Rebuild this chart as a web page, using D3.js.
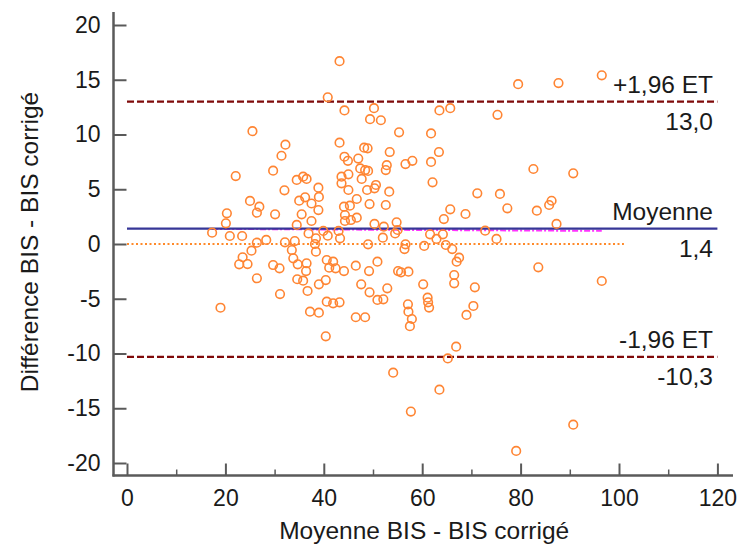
<!DOCTYPE html>
<html><head><meta charset="utf-8">
<script src="https://cdn.jsdelivr.net/npm/d3@7/dist/d3.min.js"></script>
<style>
html,body{margin:0;padding:0;background:#fff;}
svg{display:block;font-family:"Liberation Sans",Arial,sans-serif;}
</style></head>
<body>
<svg id="chart" width="742" height="551"></svg>
<script>
// Mean of the two methods (x) and their difference (y)
const meanValues = [
25.5,32.2,31.4,
43.2,40.8,79.5,44.2,50.2,49.4,51.6,63.5,65.7,75.3,55.3,61.8,43.2,48.2,48.9,44.2,44.9,47.0,53.4,63.4,58.0,56.6,61.8,52.8,
87.7,96.5,
82.6,90.7,86.3,85.8,83.3,87.3,83.6,96.5,
90.7,79.1,
40.4,66.9,65.2,54.1,63.5,57.7,57.5,
22.1,29.7,34.5,35.8,36.5,32.0,38.9,35.0,36.2,37.5,39.0,25.0,26.9,26.4,30.1,20.3,20.1,35.5,37.5,34.5,36.9,38.4,17.3,20.9,23.4,26.4,28.3,32.1,34.1,25.3,33.5,38.2,38.4,23.5,22.8,24.5,33.8,34.7,36.5,29.7,31.0,36.4,26.4,34.6,35.8,39.0,36.7,31.1,19.0,37.2,39.0,
47.4,48.4,49.0,52.6,43.6,45.0,43.6,47.7,50.6,50.3,48.8,53.3,62.1,71.2,75.8,77.3,45.0,46.7,49.3,52.6,44.1,45.3,38.9,44.3,44.3,45.5,46.7,50.3,52.2,54.8,55.0,54.5,65.7,64.4,68.8,72.8,75.1,39.9,40.8,43.0,43.3,52.0,49.0,56.6,56.4,60.4,61.6,62.9,64.2,64.8,66.1,67.5,67.0,66.5,66.5,70.7,70.4,69.0,60.2,61.1,61.2,61.4,55.1,55.7,57.2,57.1,57.2,57.9,50.9,49.2,46.5,52.9,49.3,47.6,50.9,52.1,46.5,48.4,40.6,41.9,41.1,42.4,44.1,40.4,40.6,41.9,43.2
];
const diffValues = [
10.3,9.07,8.06,
16.7,13.4,14.6,12.2,12.4,11.4,11.3,12.2,12.4,11.8,10.2,10.1,9.25,8.8,8.74,7.97,7.6,7.8,8.4,8.4,7.6,7.3,7.5,7.2,
14.7,15.4,
6.85,6.45,3.95,3.56,3.04,1.83,-2.13,-3.38,
-16.5,-18.9,
-8.43,-9.38,-10.45,-11.75,-13.3,-15.3,-7.5,
6.2,6.7,5.85,6.15,5.94,4.9,5.14,3.96,4.26,3.7,4.3,3.93,3.41,2.86,2.71,2.8,1.89,2.71,2.1,1.74,0.97,0.52,1.03,0.73,0.73,0.12,0.37,0.15,0.27,-0.61,-0.55,0.0,-0.7,-1.21,-1.86,-1.83,-1.31,-1.86,-1.76,-1.92,-2.22,-2.47,-3.13,-3.22,-3.35,-3.68,-4.29,-4.57,-5.82,-6.18,-6.27,
6.9,6.75,6.67,6.75,6.15,6.36,5.54,5.94,5.39,5.08,4.93,4.78,5.63,4.63,4.57,3.26,4.93,4.11,3.65,3.56,3.41,3.5,3.1,2.65,2.1,2.19,2.4,1.83,1.58,1.98,1.28,0.97,3.17,2.28,2.74,1.22,0.46,1.19,0.76,1.19,0.52,0.58,-0.03,-0.03,-0.46,-0.18,0.88,0.46,0.88,-0.09,-0.46,-1.25,-1.61,-2.83,-3.59,-3.96,-5.66,-6.48,-3.68,-4.9,-5.33,-5.81,-2.47,-2.59,-2.53,-5.51,-6.18,-6.85,-1.61,-2.47,-1.98,-4.05,-4.41,-3.68,-5.11,-5.05,-6.69,-6.69,-1.46,-1.61,-2.16,-2.22,-2.47,-3.29,-5.27,-5.42,-5.33
];
const xTicks = [0,20,40,60,80,100,120];
const xMinorTicks = [10,30,50,70,90,110];
const yTicks = [-20,-15,-10,-5,0,5,10,15,20];
const meanDiff = 1.4;
const upperLoA = 13.0;
const lowerLoA = -10.3;
const regressionStart = 1.38;
const regressionEnd = 1.2;
const refLabels = [
  {value: upperLoA, top: "+1,96 ET", bottom: "13,0"},
  {value: meanDiff, top: "Moyenne", bottom: "1,4"},
  {value: lowerLoA, top: "-1,96 ET", bottom: "-10,3"}
];
const xTitle = "Moyenne BIS - BIS corrigé";
const yTitle = "Différence BIS - BIS corrigé";

const svg = d3.select("#chart");
const x = d3.scaleLinear().domain([0,120]).range([127,717.4]);
const y = d3.scaleLinear().domain([-20,20]).range([463,25]);
const axisX = 113.5, axisY = 475.5;
const axisColor = "#5a5a5a";
const textColor = "#1a1a1a";

// reference lines
const g = svg.append("g");
g.append("line").attr("x1",x(0)).attr("x2",x(101)).attr("y1",y(0)).attr("y2",y(0))
  .attr("stroke","#ff8a2a").attr("stroke-width",2.2).attr("stroke-dasharray","2,2.5");
g.append("line").attr("x1",x(d3.min(meanValues))).attr("x2",x(d3.max(meanValues)))
  .attr("y1",y(regressionStart)).attr("y2",y(regressionEnd))
  .attr("stroke","#ff33ff").attr("stroke-width",2).attr("stroke-dasharray","6,2,2,2");
g.append("line").attr("x1",x(0)).attr("x2",x(120)).attr("y1",y(meanDiff)).attr("y2",y(meanDiff))
  .attr("stroke","#363697").attr("stroke-width",2.2);
[upperLoA, lowerLoA].forEach(v => {
  g.append("line").attr("x1",x(0)).attr("x2",x(120)).attr("y1",y(v)).attr("y2",y(v))
    .attr("stroke","#7f0a0a").attr("stroke-width",2.2).attr("stroke-dasharray","7,3");
});

// points
const pts = meanValues.map((m,i)=>({m, d: diffValues[i]}));
svg.append("g").selectAll("circle").data(pts).join("circle")
  .attr("cx",p=>x(p.m)).attr("cy",p=>y(p.d)).attr("r",4.3)
  .attr("fill","none").attr("stroke","#ff8533").attr("stroke-width",1.6);

// reference labels
refLabels.forEach(r => {
  svg.append("text").attr("x",713).attr("y",y(r.value)-9).attr("text-anchor","end")
    .attr("font-size",24.5).attr("fill",textColor).text(r.top);
  svg.append("text").attr("x",713).attr("y",y(r.value)+28).attr("text-anchor","end")
    .attr("font-size",24.5).attr("fill",textColor).text(r.bottom);
});

// axes
const yAxis = d3.axisLeft(y).tickValues(yTicks).tickSize(-13).tickPadding(13).tickFormat(d=>String(d));
const ya = svg.append("g").attr("transform",`translate(${axisX},0)`).call(yAxis);
ya.select(".domain").remove();
ya.selectAll(".tick line").attr("stroke",axisColor).attr("stroke-width",2);
ya.selectAll(".tick text").attr("font-size",23).attr("fill",textColor).attr("font-family","Liberation Sans, Arial, sans-serif");

const xAxis = d3.axisBottom(x).tickValues(xTicks).tickSize(-12).tickPadding(14).tickFormat(d=>String(d));
const xa = svg.append("g").attr("transform",`translate(0,${axisY})`).call(xAxis);
xa.select(".domain").remove();
xa.selectAll(".tick line").attr("stroke",axisColor).attr("stroke-width",2);
xa.selectAll(".tick text").attr("font-size",23).attr("fill",textColor).attr("font-family","Liberation Sans, Arial, sans-serif");
const xMinor = d3.axisBottom(x).tickValues(xMinorTicks).tickSize(-6).tickFormat("");
const xm = svg.append("g").attr("transform",`translate(0,${axisY})`).call(xMinor);
xm.select(".domain").remove();
xm.selectAll(".tick line").attr("stroke",axisColor).attr("stroke-width",1.5);

svg.append("line").attr("x1",axisX).attr("x2",axisX).attr("y1",12).attr("y2",axisY+1)
  .attr("stroke",axisColor).attr("stroke-width",2.5);
svg.append("line").attr("x1",axisX-1).attr("x2",733).attr("y1",axisY).attr("y2",axisY)
  .attr("stroke",axisColor).attr("stroke-width",2.5);

// titles
svg.append("text").attr("x",(x(0)+x(120))/2 + 2).attr("y",539).attr("text-anchor","middle")
  .attr("font-size",24.5).attr("fill",textColor).text(xTitle);
svg.append("text").attr("transform","translate(38,242) rotate(-90)").attr("text-anchor","middle")
  .attr("font-size",24.5).attr("fill",textColor).text(yTitle);
</script>
</body></html>
